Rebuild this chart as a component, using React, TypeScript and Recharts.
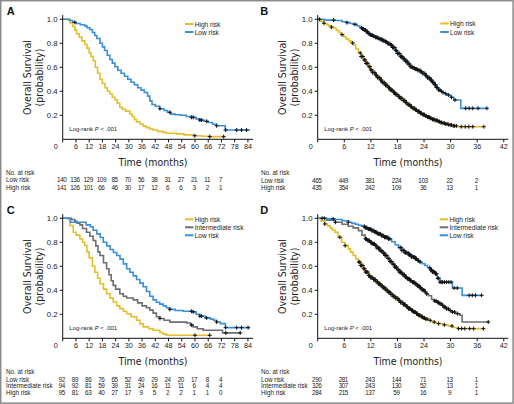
import React from "react";
import { LineChart, Line, XAxis, YAxis } from "recharts";

type P = [number, number];

const FONT = "Arial, 'Liberation Sans', Helvetica, sans-serif";
const NARROW = "'Liberation Sans Narrow', 'Arial Narrow', 'DejaVu Sans Condensed', sans-serif";

const YELLOW = "#e4be2c";
const BLUE = "#3a8fdb";
const GRAY = "#6e6e6e";

// ---------- tick labels ----------
const longTicks = [0, 6, 12, 18, 24, 30, 36, 42, 48, 54, 60, 66, 72, 78, 84];
const shortTicks = [0, 6, 12, 18, 24, 30, 36, 42];
const yTicks = [0.2, 0.4, 0.6, 0.8, 1.0];

// ---------- numbers at risk ----------
const aRiskLow = [140, 136, 129, 109, 85, 70, 56, 38, 31, 27, 21, 11, 7];
const aRiskHigh = [141, 126, 101, 66, 46, 30, 17, 12, 6, 6, 3, 2, 1];
const bRiskLow = [465, 449, 381, 224, 103, 22, 2];
const bRiskHigh = [435, 354, 242, 109, 36, 13, 1];
const cRiskLow = [92, 89, 86, 76, 65, 52, 40, 29, 24, 20, 17, 8, 4];
const cRiskInter = [94, 92, 81, 59, 39, 31, 24, 16, 11, 11, 6, 4, 4];
const cRiskHigh = [95, 81, 63, 40, 27, 17, 9, 5, 2, 2, 1, 1, 0];
const dRiskLow = [290, 281, 243, 144, 71, 13, 1];
const dRiskInter = [326, 307, 243, 130, 52, 13, 1];
const dRiskHigh = [284, 215, 137, 59, 16, 9, 1];

// ---------- survival curves [months, probability] ----------
const aHigh: P[] = [[0, 1], [2.5, 0.99], [3.3, 0.97], [4.5, 0.94], [5.5, 0.91], [6.3, 0.88], [7.5, 0.85], [8.7, 0.82], [10, 0.79], [11, 0.76], [12, 0.72], [12.8, 0.69], [13.8, 0.655], [14.8, 0.6], [15.8, 0.55], [16.9, 0.5], [18, 0.465], [19.2, 0.43], [20.3, 0.4], [21.4, 0.377], [22.5, 0.35], [23.7, 0.33], [24.8, 0.3], [25.9, 0.267], [27, 0.25], [28.5, 0.235], [30.5, 0.21], [31.5, 0.19], [32.5, 0.165], [33.5, 0.145], [35, 0.127], [36.5, 0.11], [38, 0.097], [39.5, 0.086], [41, 0.078], [43, 0.066], [45.5, 0.058], [47, 0.05], [51.6, 0.045], [55, 0.037], [59.2, 0.03], [63, 0.025], [66.7, 0.022], [73.5, 0.022]];
const aLow: P[] = [[0, 1], [3.3, 0.99], [4.5, 0.975], [6, 0.965], [8, 0.955], [10, 0.945], [11, 0.93], [12.3, 0.915], [13.5, 0.89], [14.5, 0.865], [15.5, 0.84], [16.9, 0.8], [18, 0.77], [19, 0.74], [20.2, 0.7], [21.4, 0.665], [22.5, 0.635], [23.7, 0.605], [25, 0.575], [26.5, 0.55], [28, 0.525], [29.5, 0.5], [31, 0.475], [32.5, 0.455], [34, 0.43], [35.5, 0.41], [37, 0.39], [38.5, 0.36], [39.5, 0.32], [40.5, 0.29], [42, 0.275], [44, 0.255], [46, 0.24], [47.5, 0.225], [49, 0.21], [51, 0.205], [53.5, 0.2], [56, 0.19], [58.4, 0.183], [60.5, 0.17], [62.2, 0.16], [64, 0.15], [66, 0.14], [68, 0.125], [69.8, 0.113], [73.7, 0.077], [85, 0.077]];
const aHighCensor = [59.9, 66.7, 73];
const aLowCensor = [5.5, 44.1, 48.6, 58.4, 59.2, 62.2, 63, 65.3, 69.8, 73.9, 78.9, 81.1, 83.4];

const bHigh: P[] = [[0, 1], [0.7, 0.985], [1.4, 0.967], [2, 0.956], [2.5, 0.945], [3, 0.935], [3.6, 0.925], [4.2, 0.907], [4.8, 0.89], [5.3, 0.872], [5.9, 0.855], [6.4, 0.837], [7, 0.82], [7.5, 0.803], [8.1, 0.786], [8.6, 0.753], [9.2, 0.72], [9.8, 0.69], [10.4, 0.661], [10.9, 0.633], [11.4, 0.605], [11.9, 0.578], [12.4, 0.556], [13, 0.535], [13.5, 0.514], [14.1, 0.494], [14.6, 0.472], [15.2, 0.45], [15.8, 0.43], [16.4, 0.411], [16.9, 0.393], [17.5, 0.375], [18, 0.358], [18.6, 0.342], [19.2, 0.323], [19.8, 0.305], [20.3, 0.288], [20.9, 0.272], [21.4, 0.258], [22, 0.245], [22.6, 0.231], [23.2, 0.217], [23.7, 0.206], [24.3, 0.195], [24.8, 0.185], [25.4, 0.175], [25.9, 0.166], [26.5, 0.157], [27.1, 0.148], [27.7, 0.14], [28.2, 0.134], [28.8, 0.128], [29.3, 0.123], [29.9, 0.119], [30.6, 0.112], [31.4, 0.105], [37.5, 0.105]];
const bLow: P[] = [[0, 1], [1.5, 0.993], [4, 0.99], [5.5, 0.98], [6.6, 0.972], [7.3, 0.965], [8, 0.958], [8.9, 0.944], [9.5, 0.93], [10, 0.92], [10.4, 0.911], [10.9, 0.897], [11.4, 0.883], [11.9, 0.869], [12.4, 0.86], [13, 0.85], [13.5, 0.842], [14.1, 0.833], [14.7, 0.822], [15.3, 0.81], [15.8, 0.798], [16.4, 0.786], [16.9, 0.765], [17.5, 0.74], [18, 0.715], [18.6, 0.689], [19.2, 0.67], [19.8, 0.65], [20.3, 0.628], [20.9, 0.605], [21.4, 0.595], [22, 0.585], [22.6, 0.574], [23.2, 0.563], [23.7, 0.548], [24.3, 0.53], [24.8, 0.512], [25.4, 0.494], [25.9, 0.475], [26.3, 0.455], [26.8, 0.432], [27.3, 0.411], [27.8, 0.4], [28.2, 0.39], [28.7, 0.38], [29.2, 0.369], [30, 0.35], [30.7, 0.328], [32.3, 0.258], [38.2, 0.258]];
const bHighCensor = [1.4, 3.1, 5.5, 7.9, 9.6, 9.8, 10.0, 10.2, 10.5, 10.7, 10.9, 11.1, 11.3, 11.6, 11.8, 12.0, 12.2, 12.4, 12.7, 12.9, 13.1, 13.3, 13.5, 13.8, 14.0, 14.2, 14.4, 14.6, 14.9, 15.1, 15.3, 15.5, 15.7, 16.0, 16.2, 16.4, 16.6, 16.8, 17.1, 17.3, 17.5, 17.7, 17.9, 18.2, 18.4, 18.6, 18.8, 19.0, 19.3, 19.5, 19.7, 19.9, 20.1, 20.4, 20.6, 20.8, 21.0, 21.2, 21.5, 21.7, 21.9, 22.1, 22.3, 22.6, 22.8, 23.0, 23.2, 23.4, 23.7, 23.9, 24.1, 24.3, 24.5, 24.8, 25.0, 25.2, 25.4, 25.6, 25.9, 26.1, 26.3, 26.5, 26.8, 27.0, 27.3, 27.5, 27.8, 28.0, 28.3, 28.6, 28.9, 29.2, 29.5, 29.9, 30.2, 30.6, 30.9, 31.3, 32.4, 33.3, 34.1, 35.0, 37.5];
const bLowCensor = [0.4, 3.6, 6.6, 8.4, 9.9, 10.1, 10.3, 10.5, 10.8, 11.0, 11.2, 11.4, 11.6, 11.9, 12.1, 12.3, 12.5, 12.7, 13.0, 13.2, 13.4, 13.6, 13.8, 14.1, 14.3, 14.5, 14.7, 14.9, 15.2, 15.4, 15.6, 15.8, 16.0, 16.3, 16.5, 16.7, 16.9, 17.1, 17.4, 17.6, 17.8, 18.0, 18.2, 18.5, 18.7, 18.9, 19.1, 19.3, 19.6, 19.8, 20.0, 20.2, 20.4, 20.7, 20.9, 21.1, 21.3, 21.5, 21.8, 22.0, 22.2, 22.4, 22.6, 22.9, 23.1, 23.3, 23.5, 23.7, 24.0, 24.2, 24.4, 24.6, 24.8, 25.1, 25.3, 25.5, 25.7, 25.9, 26.2, 26.4, 26.6, 26.8, 27.0, 27.3, 27.6, 27.9, 28.3, 28.9, 29.5, 30.2, 31.0, 33.4, 34.2, 35.0, 36.2, 38.2];

const cHigh: P[] = [[0, 1], [2.3, 0.99], [3.3, 0.94], [4.8, 0.884], [6, 0.86], [7.8, 0.828], [9, 0.8], [10, 0.773], [11, 0.72], [12, 0.67], [13.5, 0.6], [14.6, 0.551], [15.8, 0.5], [16.9, 0.454], [18.5, 0.41], [19.9, 0.371], [21.5, 0.335], [22.9, 0.302], [24.5, 0.27], [25.9, 0.247], [27.5, 0.225], [29, 0.205], [31, 0.18], [33.5, 0.15], [35, 0.12], [36.5, 0.095], [39, 0.08], [41, 0.067], [44.1, 0.048], [45.5, 0.035], [47.1, 0.025], [66.7, 0.025]];
const cInter: P[] = [[0, 1], [4, 0.99], [5.5, 0.975], [6.5, 0.96], [7.8, 0.945], [9, 0.915], [10.8, 0.884], [12.3, 0.85], [13.8, 0.815], [15, 0.77], [16, 0.72], [16.9, 0.69], [18.5, 0.63], [19.9, 0.579], [21, 0.53], [22, 0.48], [22.9, 0.441], [24, 0.41], [25.9, 0.371], [27.5, 0.35], [29, 0.336], [32, 0.32], [34, 0.295], [36, 0.27], [38, 0.255], [39.5, 0.235], [41, 0.21], [42.5, 0.18], [44.1, 0.165], [46, 0.15], [48.6, 0.135], [56.2, 0.128], [58, 0.11], [59.2, 0.095], [61, 0.08], [63.7, 0.067], [71.3, 0.067], [72.5, 0.045], [80.5, 0.045]];
const cLow: P[] = [[0, 1], [3.5, 0.967], [10.1, 0.967], [10.6, 0.945], [12.5, 0.93], [13.8, 0.9], [15.5, 0.87], [17, 0.84], [18.4, 0.8], [20, 0.77], [21.5, 0.74], [23, 0.715], [24.5, 0.69], [26, 0.66], [27.5, 0.62], [29, 0.58], [30.5, 0.55], [32, 0.52], [33.5, 0.49], [35, 0.46], [36.5, 0.43], [38, 0.39], [39.5, 0.35], [41, 0.32], [42.5, 0.3], [44, 0.285], [45.6, 0.27], [47, 0.255], [48.6, 0.241], [51, 0.232], [54.7, 0.225], [59.2, 0.22], [60.5, 0.2], [62.2, 0.185], [64.5, 0.17], [67, 0.16], [68.5, 0.15], [69.8, 0.136], [71.5, 0.122], [73.8, 0.089], [84.9, 0.089]];
const cHighCensor = [60, 66.7];
const cInterCensor = [44.1, 58.5, 74, 80.5];
const cLowCensor = [48.6, 58.4, 59.2, 62.2, 63, 65.3, 69.8, 73.9, 78.9, 81.1, 84.1];

const dHigh: P[] = [[0, 1], [0.8, 0.975], [1.6, 0.953], [2.2, 0.937], [2.8, 0.92], [3.3, 0.902], [3.9, 0.884], [4.6, 0.842], [5.4, 0.8], [6.1, 0.772], [6.9, 0.745], [7.4, 0.718], [8, 0.69], [8.6, 0.662], [9.2, 0.635], [9.7, 0.607], [10.3, 0.58], [10.8, 0.552], [11.4, 0.524], [11.9, 0.507], [12.5, 0.49], [13.1, 0.472], [13.7, 0.454], [14.2, 0.437], [14.8, 0.42], [15.3, 0.402], [15.9, 0.385], [16.4, 0.367], [17, 0.35], [17.6, 0.333], [18.2, 0.316], [18.7, 0.298], [19.3, 0.28], [19.9, 0.263], [20.5, 0.247], [21, 0.233], [21.6, 0.22], [22.1, 0.206], [22.7, 0.192], [23.2, 0.181], [23.8, 0.17], [24.4, 0.16], [25, 0.15], [25.5, 0.142], [26.1, 0.135], [26.6, 0.128], [27.2, 0.122], [28.3, 0.112], [29.5, 0.103], [30.6, 0.09], [31.7, 0.081], [37.4, 0.081]];
const dInter: P[] = [[0, 1], [2, 0.985], [3.9, 0.967], [5.5, 0.95], [6.9, 0.934], [8, 0.92], [9.2, 0.897], [10, 0.86], [10.7, 0.828], [11.2, 0.815], [11.8, 0.8], [12.3, 0.787], [12.9, 0.773], [13.4, 0.752], [14, 0.73], [14.6, 0.71], [15.2, 0.69], [15.7, 0.665], [16.3, 0.64], [16.8, 0.617], [17.4, 0.593], [17.9, 0.571], [18.5, 0.55], [19.1, 0.53], [19.7, 0.51], [20.2, 0.495], [20.8, 0.48], [21.4, 0.467], [22, 0.454], [22.5, 0.437], [23.1, 0.42], [23.6, 0.402], [24.2, 0.385], [24.6, 0.37], [25, 0.355], [25.7, 0.325], [26.2, 0.312], [26.8, 0.3], [27.4, 0.287], [28, 0.275], [28.5, 0.26], [29.1, 0.245], [29.6, 0.232], [30.2, 0.219], [31.1, 0.205], [32.1, 0.192], [32.6, 0.136], [38.5, 0.136]];
const dLow: P[] = [[0, 1], [2, 0.995], [3.9, 0.99], [5.5, 0.98], [6.9, 0.967], [7.7, 0.958], [8.5, 0.95], [9.2, 0.942], [9.9, 0.934], [10.6, 0.922], [11.4, 0.91], [12.1, 0.897], [12.9, 0.884], [13.6, 0.87], [14.4, 0.855], [15.1, 0.842], [15.9, 0.828], [16.7, 0.805], [17.5, 0.78], [18.2, 0.756], [19, 0.732], [19.7, 0.713], [20.5, 0.695], [21.2, 0.678], [22, 0.662], [22.5, 0.648], [23.1, 0.635], [23.6, 0.621], [24.2, 0.607], [24.8, 0.588], [25.4, 0.57], [25.9, 0.553], [26.5, 0.537], [27, 0.5], [27.6, 0.468], [30.4, 0.419], [32.6, 0.358], [37, 0.358]];
const dHighCensor = [1.6, 5.0, 6.2, 9.3, 9.5, 9.7, 9.9, 10.2, 10.4, 10.6, 10.8, 11.0, 11.3, 11.5, 11.7, 11.9, 12.1, 12.4, 12.6, 12.8, 13.0, 13.2, 13.5, 13.7, 13.9, 14.1, 14.3, 14.6, 14.8, 15.0, 15.2, 15.4, 15.7, 15.9, 16.1, 16.3, 16.5, 16.8, 17.0, 17.2, 17.4, 17.6, 17.9, 18.1, 18.3, 18.5, 18.7, 19.0, 19.2, 19.4, 19.6, 19.8, 20.1, 20.3, 20.5, 20.7, 20.9, 21.2, 21.4, 21.6, 21.8, 22.0, 22.3, 22.5, 22.7, 22.9, 23.1, 23.4, 23.6, 23.8, 24.1, 24.4, 24.7, 25.4, 26.3, 27.3, 28.6, 30.3, 31.8, 32.5, 33.2, 34.3, 35.2, 37.4];
const dInterCensor = [1.5, 4.0, 10.8, 11.0, 11.2, 11.5, 11.7, 11.9, 12.1, 12.3, 12.6, 12.8, 13.0, 13.2, 13.4, 13.7, 13.9, 14.1, 14.3, 14.5, 14.8, 15.0, 15.2, 15.4, 15.6, 15.9, 16.1, 16.3, 16.5, 16.7, 17.0, 17.2, 17.4, 17.6, 17.8, 18.1, 18.3, 18.5, 18.7, 18.9, 19.2, 19.4, 19.6, 19.8, 20.0, 20.3, 20.5, 20.7, 20.9, 21.1, 21.4, 21.6, 21.8, 22.0, 22.2, 22.5, 22.7, 22.9, 23.1, 23.3, 23.6, 23.8, 24.0, 24.3, 24.6, 26.4, 26.7, 27.0, 27.3, 27.6, 27.9, 28.2, 28.5, 28.8, 29.1, 29.5, 29.9, 30.4, 30.9, 31.6, 38.5];
const dLowCensor = [1.0, 3.5, 6.9, 10.5, 10.7, 10.9, 11.1, 11.4, 11.6, 11.8, 12.0, 12.2, 12.5, 12.7, 12.9, 13.1, 13.3, 13.6, 13.8, 14.0, 14.2, 14.4, 14.7, 14.9, 15.1, 15.3, 15.5, 15.8, 16.0, 16.3, 18.6, 18.8, 19.0, 19.3, 19.5, 19.7, 19.9, 20.1, 20.4, 20.6, 20.8, 21.0, 21.2, 21.5, 21.7, 21.9, 22.1, 22.3, 22.6, 22.8, 23.1, 25.3, 25.5, 25.7, 25.9, 26.2, 26.4, 26.6, 26.8, 27.1, 27.3, 27.6, 27.9, 28.2, 28.6, 29.1, 29.6, 30.1, 30.8, 31.5, 34.2, 34.9, 35.6, 37.0];

// ---------- helpers ----------
const toPts = (c: P[]) => c.map(([t, s]) => ({ t, s }));
const survAt = (c: P[], t: number) => {
  let s = c[0][1];
  for (const [ti, si] of c) if (ti <= t) s = si;
  return s;
};
const censorPts = (c: P[], times: number[]) => times.map((t) => ({ t, s: survAt(c, t) }));

const plusDot = (props: any) => {
  const { cx, cy, index } = props;
  if (cx == null || cy == null) return <g key={`n${index}`} />;
  const r = 2.0;
  return (
    <path
      key={`c${index}`}
      d={`M${cx - r},${cy}H${cx + r}M${cx},${cy - r}V${cy + r}`}
      stroke="#111"
      strokeWidth={1.0}
      fill="none"
    />
  );
};

type Series = { curve: P[]; censor: number[]; color: string; name: string };
type Row = { label: string; values: number[] };

const PLOT_LEFT = 62.7;
const PLOT_RIGHT = 253.2;

function Panel(props: {
  left: number;
  top: number;
  width: number;
  xMax: number;
  ticks: number[];
  series: Series[];
  rows: Row[];
  rowYs: number[];
  letter: string;
  letterX: number;
  legendX: number;
  legendYs: number[];
}) {
  const { left, top, width, xMax, ticks, series, rows, rowYs, letter, letterX, legendX, legendYs } = props;
  const tick = (p: any) => {
    const v = p.payload.value;
    const i = Math.round(v / 6);
    return (
      <g>
        <text
          x={v === 0 ? p.x - 7 : p.x}
          y={146.8}
          textAnchor="middle"
          dominantBaseline="central"
          fontSize={7.2}
          fill="#222"
          fontFamily={FONT}
        >
          {v}
        </text>
        {rows.map((r, k) =>
          i < r.values.length ? (
            <text
              key={k}
              x={p.x - 1}
              y={rowYs[k]}
              textAnchor="middle"
              dominantBaseline="central"
              fontSize={6.3}
              letterSpacing={-0.4}
              fill="#222"
              fontFamily={FONT}
            >
              {r.values[i]}
            </text>
          ) : null
        )}
      </g>
    );
  };
  return (
    <div style={{ position: "absolute", left, top, width, height: 200 }}>
      <LineChart
        width={width}
        height={200}
        margin={{ top: 15.1, right: width - PLOT_RIGHT, bottom: 0.7, left: 0 }}
      >
        <XAxis
          type="number"
          dataKey="t"
          domain={[0, xMax]}
          ticks={ticks}
          interval={0}
          allowDataOverflow
          height={60}
          tick={tick}
          tickSize={3}
          axisLine={{ stroke: "#111" }}
          tickLine={{ stroke: "#111" }}
        />
        <YAxis
          type="number"
          domain={[0, 1.035]}
          ticks={yTicks}
          interval={0}
          allowDataOverflow
          width={PLOT_LEFT}
          tickFormatter={(v: number) => v.toFixed(1)}
          tickSize={3}
          tickMargin={2}
          tick={{ fontSize: 7.8, fill: "#222", fontFamily: FONT }}
          axisLine={{ stroke: "#111" }}
          tickLine={{ stroke: "#111" }}
        />
        {series.map((s) => (
          <Line
            key={`l-${s.name}`}
            data={toPts(s.curve)}
            dataKey="s"
            type="stepAfter"
            stroke={s.color}
            strokeWidth={1.6}
            dot={false}
            activeDot={false}
            isAnimationActive={false}
          />
        ))}
        {series.map((s) => (
          <Line
            key={`c-${s.name}`}
            data={censorPts(s.curve, s.censor)}
            dataKey="s"
            stroke="none"
            dot={plusDot}
            activeDot={false}
            isAnimationActive={false}
          />
        ))}
      </LineChart>
      <svg
        width={width}
        height={200}
        style={{ position: "absolute", left: 0, top: 0, pointerEvents: "none" }}
        fontFamily={FONT}
      >
        <text x={letterX} y={15} fontSize={11} fontWeight="bold" fill="#111">
          {letter}
        </text>
        <g fontFamily={NARROW} fontSize={10.5} fill="#222" textAnchor="middle" dominantBaseline="central">
          <text transform="translate(26.7,77.5) rotate(-90)">Overall Survival</text>
          <text transform="translate(39.3,77.5) rotate(-90)">(probability)</text>
          <text x={153} y={161.5}>Time (months)</text>
        </g>
        <text x={69.3} y={129.4} fontSize={6} fill="#222" dominantBaseline="central">
          Log-rank <tspan fontStyle="italic">P</tspan> {"< .001"}
        </text>
        {series.map((s, k) => (
          <g key={s.name}>
            <line x1={legendX} x2={legendX + 8.5} y1={legendYs[k]} y2={legendYs[k]} stroke={s.color} strokeWidth={2} />
            <text x={legendX + 9.7} y={legendYs[k]} fontSize={6.6} fill="#222" dominantBaseline="central">
              {s.name}
            </text>
          </g>
        ))}
        <text x={6} y={172.7} fontSize={6.3} fill="#222" dominantBaseline="central">
          No. at risk
        </text>
        {rows.map((r, k) => (
          <text key={r.label} x={6} y={rowYs[k]} fontSize={6.3} fill="#222" dominantBaseline="central">
            {r.label}
          </text>
        ))}
      </svg>
    </div>
  );
}

export default function App() {
  return (
    <div
      style={{
        position: "absolute",
        left: 0,
        top: 0,
        width: 514,
        height: 404,
        background: "#fff",
        overflow: "hidden",
      }}
    >
      <Panel
        left={0}
        top={0}
        width={255}
        xMax={86.4}
        ticks={longTicks}
        series={[
          { curve: aHigh, censor: aHighCensor, color: YELLOW, name: "High risk" },
          { curve: aLow, censor: aLowCensor, color: BLUE, name: "Low risk" },
        ]}
        rows={[
          { label: "Low risk", values: aRiskLow },
          { label: "High risk", values: aRiskHigh },
        ]}
        rowYs={[179.5, 187]}
        letter="A"
        letterX={6.7}
        legendX={185}
        legendYs={[24, 32]}
      />
      <Panel
        left={255}
        top={0}
        width={259}
        xMax={43}
        ticks={shortTicks}
        series={[
          { curve: bHigh, censor: bHighCensor, color: YELLOW, name: "High risk" },
          { curve: bLow, censor: bLowCensor, color: BLUE, name: "Low risk" },
        ]}
        rows={[
          { label: "Low risk", values: bRiskLow },
          { label: "High risk", values: bRiskHigh },
        ]}
        rowYs={[180, 187]}
        letter="B"
        letterX={5.3}
        legendX={185.3}
        legendYs={[23.5, 32]}
      />
      <Panel
        left={0}
        top={199}
        width={255}
        xMax={86.4}
        ticks={longTicks}
        series={[
          { curve: cHigh, censor: cHighCensor, color: YELLOW, name: "High risk" },
          { curve: cInter, censor: cInterCensor, color: GRAY, name: "Intermediate risk" },
          { curve: cLow, censor: cLowCensor, color: BLUE, name: "Low risk" },
        ]}
        rows={[
          { label: "Low risk", values: cRiskLow },
          { label: "Intermediate risk", values: cRiskInter },
          { label: "High risk", values: cRiskHigh },
        ]}
        rowYs={[180, 186.7, 193.3]}
        letter="C"
        letterX={6.7}
        legendX={185}
        legendYs={[20.3, 28.3, 36.3]}
      />
      <Panel
        left={255}
        top={199}
        width={259}
        xMax={43}
        ticks={shortTicks}
        series={[
          { curve: dHigh, censor: dHighCensor, color: YELLOW, name: "High risk" },
          { curve: dInter, censor: dInterCensor, color: GRAY, name: "Intermediate risk" },
          { curve: dLow, censor: dLowCensor, color: BLUE, name: "Low risk" },
        ]}
        rows={[
          { label: "Low risk", values: dRiskLow },
          { label: "Intermediate risk", values: dRiskInter },
          { label: "High risk", values: dRiskHigh },
        ]}
        rowYs={[180, 186.7, 193.3]}
        letter="D"
        letterX={5.3}
        legendX={184.7}
        legendYs={[20.3, 28.3, 36.3]}
      />
      <svg width={514} height={404} style={{ position: "absolute", left: 0, top: 0, pointerEvents: "none" }}>
        <rect x={0.7} y={0.7} width={512.4} height={402.4} fill="none" stroke="#8a8a8a" strokeWidth={1.5} />
      </svg>
    </div>
  );
}
